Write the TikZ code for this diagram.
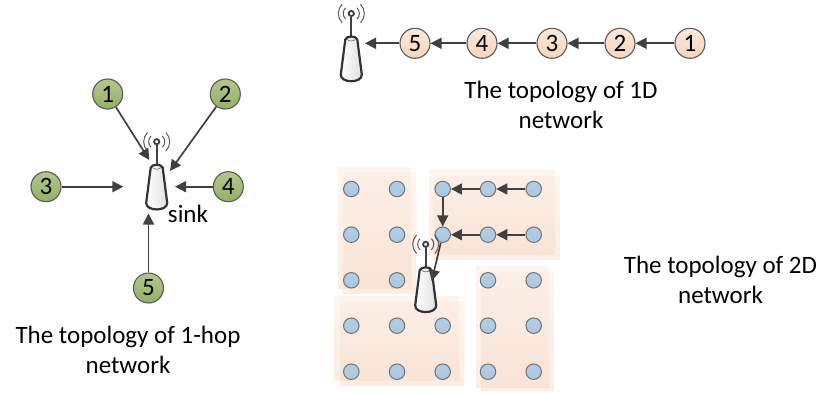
\documentclass[tikz,border=0pt]{standalone}
\usepackage{fontspec}
\setmainfont{Carlito}
\usetikzlibrary{arrows.meta}
\definecolor{linkgray}{HTML}{404040}
\def\sinkicon(#1,#2){
	\begin{scope}[shift={(#1,#2)}]
		\draw[line width=1pt, color=black!65] (-5.7,-5.7) arc (225:135:8);
		\draw[line width=1pt, color=black!65] (5.7,-5.7) arc (-45:45:8);
		\draw[line width=1pt, color=black!65] (-9.2,-9.2) arc (225:135:13);
		\draw[line width=1pt, color=black!65] (9.2,-9.2) arc (-45:45:13);
		\draw[line width=2.2pt, color=black!75] (0,3) -- (0,24);
		\draw[line width=1.8pt, color=black!75, fill=white] (0,0) circle (2.6);
		\draw[line width=2.2pt, color=black!80, left color=white, right color=black!12] (-6,26) .. controls (-5,22) and (5,22) .. (6,26) -- (10.5,61) .. controls (11,70) and (-11,70) .. (-10.5,61) -- cycle;
		\draw[line width=0.6pt, color=black!60] (-4,26) .. controls (-2,28) and (2,28) .. (4,26);
	\end{scope}
}
\def\zonebox(#1,#2)(#3,#4)(#5,#6)(#7,#8){
	\shade[zone] (#1,#2) rectangle (#3,#4);
	\shade[zone] (#5,#6) rectangle (#7,#8);
	\shade[zonecore] (#5,#6) rectangle (#3,#4);
}
\definecolor{lime1}{HTML}{B3C78D}
\definecolor{lime2}{HTML}{94B066}
\definecolor{peach1}{HTML}{FBE9DD}
\definecolor{peach2}{HTML}{F7D5BC}
\definecolor{sky1}{HTML}{B3CDE3}
\definecolor{sky2}{HTML}{ABC8E2}
\definecolor{edge1}{HTML}{FDF5EF}
\definecolor{edge2}{HTML}{FCEEE4}
\definecolor{core1}{HTML}{FBEFE7}
\definecolor{core2}{HTML}{F9E4D6}
\tikzset{
	greennode/.style={circle, draw=black!65, line width=1.1pt, minimum size=30pt, inner sep=0pt, top color=lime1, bottom color=lime2, font=\fontsize{25}{25}\selectfont},
	peachnode/.style={circle, draw=black!65, line width=1.1pt, minimum size=30pt, inner sep=0pt, top color=peach1, bottom color=peach2, font=\fontsize{25}{25}\selectfont},
	bluenode/.style={circle, draw=black!55, line width=1pt, minimum size=15.5pt, inner sep=0pt, top color=sky1, bottom color=sky2},
	link/.style={-{Triangle[length=11pt,width=11pt]}, line width=1.7pt, color=linkgray},
	caption/.style={align=center, font=\fontsize{25}{30}\selectfont},
	zone/.style={top color=edge1, bottom color=edge2},
	zonecore/.style={top color=core1, bottom color=core2}
}
\begin{document}
\begin{tikzpicture}[x=1pt, y=-1pt]
		%%%%% START %%%%%
		\useasboundingbox (0,0) rectangle (820,392);
		
		% 1-hop
		\sinkicon(156.7,141.7)
		\node[greennode] (h1) at (107.7,94) {1};
		\node[greennode] (h2) at (225.3,94) {2};
		\node[greennode] (h3) at (46,186.7) {3};
		\node[greennode] (h4) at (228.3,186.7) {4};
		\node[greennode] (h5) at (148.5,288) {5};
		\coordinate (hs1) at (149.3,160);
		\coordinate (hs2) at (170,171);
		\coordinate (hs3) at (123.3,186.7);
		\coordinate (hs4) at (175,186.7);
		\coordinate (hs5) at (148.5,213.5);
		\draw[link] (h1) -- (hs1);
		\draw[link] (h2) -- (hs2);
		\draw[link] (h3) -- (hs3);
		\draw[link] (h4) -- (hs4);
		\draw[link] (h5) -- (hs5);
		\node[font=\fontsize{25}{25}\selectfont] (sinklabel) at (188,214) {sink};
		\node[caption] (caphop) at (128,350) {The topology of 1-hop\\network};
		
		% 1D
		\sinkicon(351.3,13.5)
		\node[peachnode] (a5) at (415,43.3) {5};
		\node[peachnode] (a4) at (482,43.3) {4};
		\node[peachnode] (a3) at (552,43.3) {3};
		\node[peachnode] (a2) at (620,43.3) {2};
		\node[peachnode] (a1) at (690,43.3) {1};
		\coordinate (as) at (365,43.3);
		\draw[link] (a1) -- (a2);
		\draw[link] (a2) -- (a3);
		\draw[link] (a3) -- (a4);
		\draw[link] (a4) -- (a5);
		\draw[link] (a5) -- (as);
		\node[caption] (capone) at (561,104.5) {The topology of 1D\\network};
		
		% 2D
		\zonebox(338,167.3)(411,288)(343,172)(416,293)
		\zonebox(429,170)(555,254)(434,176)(560,259)
		\zonebox(334,296)(459,380)(340,301)(464,385)
		\zonebox(476,266)(549,387)(481,271)(554,390)
		
		\node[bluenode] (g11) at (351.3,189) {};
		\node[bluenode] (g12) at (397,189) {};
		\node[bluenode] (g13) at (442.7,189) {};
		\node[bluenode] (g14) at (488,189) {};
		\node[bluenode] (g15) at (533.7,189) {};
		\node[bluenode] (g21) at (351.3,234.7) {};
		\node[bluenode] (g22) at (397,234.7) {};
		\node[bluenode] (g23) at (442.7,234.7) {};
		\node[bluenode] (g24) at (488,234.7) {};
		\node[bluenode] (g25) at (533.7,234.7) {};
		\node[bluenode] (g31) at (351.3,280.3) {};
		\node[bluenode] (g32) at (397,280.3) {};
		\node[bluenode] (g34) at (488,280.3) {};
		\node[bluenode] (g35) at (533.7,280.3) {};
		\node[bluenode] (g41) at (351.3,325.7) {};
		\node[bluenode] (g42) at (397,325.7) {};
		\node[bluenode] (g43) at (442.7,325.7) {};
		\node[bluenode] (g44) at (488,325.7) {};
		\node[bluenode] (g45) at (533.7,325.7) {};
		\node[bluenode] (g51) at (351.3,371.7) {};
		\node[bluenode] (g52) at (397,371.7) {};
		\node[bluenode] (g53) at (442.7,371.7) {};
		\node[bluenode] (g54) at (488,371.7) {};
		\node[bluenode] (g55) at (533.7,371.7) {};
		
		\sinkicon(425.7,244.3)
		\coordinate (gs) at (431.7,281);
		\draw[link] (g15) -- (g14);
		\draw[link] (g14) -- (g13);
		\draw[link] (g25) -- (g24);
		\draw[link] (g24) -- (g23);
		\draw[link] (g13) -- (g23);
		\draw[link] (g23) -- (gs);
		\node[caption] (captwo) at (720.5,280) {The topology of 2D\\network};
		
		%%%%% END %%%%%
	\end{tikzpicture}
\end{document}
